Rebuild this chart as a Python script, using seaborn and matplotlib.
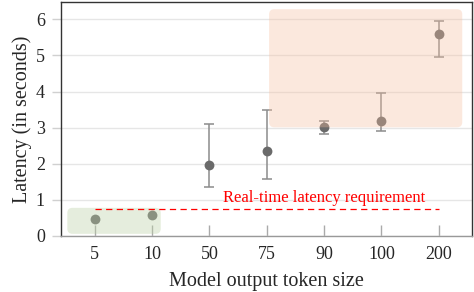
import matplotlib
matplotlib.use("Agg")
import matplotlib.pyplot as plt
from matplotlib.patches import FancyBboxPatch
import numpy as np
import pandas as pd
import seaborn as sns

# data
sizes = ["5", "10", "50", "75", "90", "100", "200"]
latency = [0.47, 0.59, 1.96, 2.36, 3.01, 3.19, 5.60]
err_low = [np.nan, np.nan, 1.37, 1.57, 2.82, 2.90, 4.95]
err_high = [np.nan, np.nan, 3.10, 3.48, 3.19, 3.95, 5.96]
threshold = 0.74
threshold_label = "Real-time latency requirement"

sns.set_style("whitegrid")
plt.rcParams['font.family'] = ['Liberation Serif', 'DejaVu Serif']

df = pd.DataFrame({"size": sizes, "latency": latency})

fig = plt.figure(figsize=(4.74, 2.92), dpi=100)
ax = fig.add_axes([61/474, 1-236/292, 411/474, 234/292])

xs = np.arange(len(sizes))
lat = np.array(latency)
yerr = np.vstack([lat - np.array(err_low), np.array(err_high) - lat])
ax.errorbar(xs, lat, yerr=yerr, fmt='none', ecolor='#8c8c8c', elinewidth=1.1,
            capsize=3.6, capthick=1.1, zorder=3)

sns.scatterplot(data=df, x="size", y="latency", ax=ax, s=50, color='#6a6a6a',
                linewidth=0, zorder=4)

# shaded regions
green = FancyBboxPatch((-0.48, 0.06), 1.63, 0.72,
                       boxstyle="round,pad=0,rounding_size=0.09",
                       mutation_aspect=1.6, fc='#bcd2a6', ec='none',
                       alpha=0.38, zorder=5)
orange = FancyBboxPatch((3.04, 3.01), 3.37, 3.27,
                        boxstyle="round,pad=0,rounding_size=0.09",
                        mutation_aspect=1.6, fc='#f6be9e', ec='none',
                        alpha=0.34, zorder=5)
ax.add_patch(green)
ax.add_patch(orange)

ax.plot([0, 6], [threshold, threshold], color='#ff0000', lw=0.9,
        dashes=(5, 3.5), zorder=6)
ax.text(4.0, 0.93, threshold_label, color='#ff0000', fontsize=12,
        ha='center', va='baseline', zorder=6)

ax.set_xlim(-0.59, 6.58)
ax.set_ylim(0, 6.48)
ax.set_yticks(range(0, 7))
ax.grid(axis='x', visible=False)
ax.grid(axis='y', color='#e6e6e6', lw=1)

for side in ['left', 'top', 'right']:
    ax.spines[side].set_color('#333333')
    ax.spines[side].set_linewidth(1.0)
ax.spines['bottom'].set_color('#999999')
ax.spines['bottom'].set_linewidth(1.0)

ax.tick_params(axis='x', direction='in', length=8, width=1, color='#aaaaaa',
               labelsize=13, pad=7, bottom=True)
ax.tick_params(axis='y', direction='out', length=6.5, width=1, color='#d0d0d0',
               labelsize=13, pad=5, left=True)

ax.set_xlabel("Model output token size", fontsize=14.5, labelpad=7)
ax.set_ylabel("Latency (in seconds)", fontsize=14.5, labelpad=3)

fig.savefig("out.png", dpi=100)
